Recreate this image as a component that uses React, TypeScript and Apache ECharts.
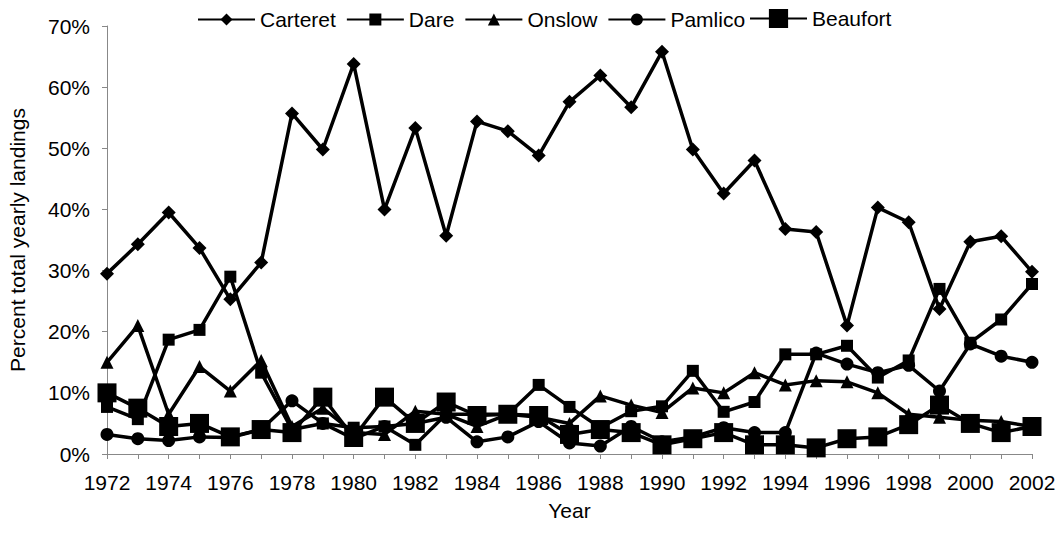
import React, { useEffect, useRef } from "react";
import * as echarts from "echarts";

const years = [
  "1972","1973","1974","1975","1976","1977","1978","1979","1980","1981",
  "1982","1983","1984","1985","1986","1987","1988","1989","1990","1991",
  "1992","1993","1994","1995","1996","1997","1998","1999","2000","2001","2002",
];

const carteret = [29.5,34.3,39.5,33.7,25.3,31.3,55.7,49.8,63.8,40.0,53.3,35.7,54.4,52.8,48.8,57.6,61.9,56.7,65.8,49.8,42.6,48.0,36.8,36.3,21.0,40.3,37.9,23.7,34.7,35.6,29.8];
const dare = [7.7,5.7,18.7,20.3,29.0,13.3,4.0,5.0,4.3,4.5,1.5,6.5,6.5,6.5,11.3,7.7,4.3,7.0,7.8,13.6,6.9,8.5,16.3,16.3,17.7,12.5,15.3,27.0,18.2,22.0,27.8];
const onslow = [15.0,21.0,6.5,14.3,10.3,15.3,4.5,7.5,3.5,3.2,7.0,6.5,4.5,6.5,6.0,5.0,9.5,8.0,6.8,10.8,10.0,13.3,11.3,12.0,11.8,10.0,6.5,6.0,5.5,5.3,4.5];
const pamlico = [3.2,2.5,2.2,2.8,2.7,4.0,8.7,5.0,2.5,4.5,5.0,6.0,2.0,2.8,5.3,1.8,1.3,4.5,2.0,2.8,4.3,3.5,3.5,16.5,14.7,13.3,14.5,10.3,18.0,16.0,15.0];
const beaufort = [10.0,7.5,4.5,5.0,2.8,4.0,3.5,9.3,2.7,9.3,5.0,8.5,6.3,6.5,6.3,3.2,4.0,3.5,1.5,2.5,3.5,1.5,1.5,1.0,2.5,2.8,4.8,8.0,5.0,3.5,4.5];

const yTicks = [0, 10, 20, 30, 40, 50, 60, 70];

const FONT = "'Liberation Sans', Arial, sans-serif";
const FS = 21;

export default function App() {
  const ref = useRef<HTMLDivElement>(null);
  useEffect(() => {
    if (!ref.current) return;
    const chart = echarts.init(ref.current, undefined, { renderer: "svg" });
    const mk = (name: string, data: number[], symbol: string, size: number) => ({
      name,
      type: "line",
      data,
      symbol,
      symbolSize: size,
      showAllSymbol: true,
      lineStyle: { color: "#000", width: 3.5 },
      itemStyle: { color: "#000" },
    });
    const legendText = { fontFamily: FONT, fontSize: FS, color: "#000" };
    chart.setOption({
      animation: false,
      backgroundColor: "#fff",
      textStyle: { fontFamily: FONT },
      legend: [
        {
          top: 9,
          left: 197,
          padding: 0,
          itemWidth: 57,
          itemHeight: 15,
          itemGap: 10,
          textStyle: legendText,
          data: ["Carteret", "Dare", "Onslow", "Pamlico"],
        },
        {
          top: 8,
          left: 749,
          padding: 0,
          itemWidth: 57,
          itemHeight: 24,
          textStyle: legendText,
          data: ["Beaufort"],
        },
      ],
      grid: {
        left: 107,
        right: 28,
        top: 26,
        bottom: 85,
        containLabel: false,
        outerBoundsMode: "none",
      },
      xAxis: {
        type: "category",
        data: years,
        boundaryGap: false,
        name: "Year",
        nameLocation: "middle",
        nameGap: 46,
        nameTextStyle: { fontFamily: FONT, fontSize: FS, color: "#000" },
        axisLine: { lineStyle: { color: "#888", width: 1 } },
        axisTick: { show: true, interval: 0, length: 5, lineStyle: { color: "#888" } },
        axisLabel: { interval: 1, fontFamily: FONT, fontSize: FS, color: "#000", margin: 18 },
        splitLine: { show: false },
      },
      yAxis: {
        type: "value",
        min: 0,
        max: 70,
        interval: 10,
        name: "Percent total yearly landings",
        nameLocation: "middle",
        nameGap: 79,
        nameRotate: 90,
        nameTextStyle: { fontFamily: FONT, fontSize: FS, color: "#000" },
        axisLine: { show: true, lineStyle: { color: "#888", width: 1 } },
        axisTick: { show: true, length: 5, lineStyle: { color: "#888" } },
        axisLabel: {
          fontFamily: FONT,
          fontSize: FS,
          color: "#000",
          margin: 17,
          formatter: (v: number) => (yTicks.includes(v) ? v + "%" : ""),
        },
        splitLine: { show: false },
      },
      series: [
        mk("Carteret", carteret, "diamond", 14),
        mk("Dare", dare, "rect", 12),
        mk("Onslow", onslow, "triangle", 13),
        mk("Pamlico", pamlico, "circle", 13),
        mk("Beaufort", beaufort, "rect", 19),
      ],
    });
    return () => chart.dispose();
  }, []);
  return (
    <div
      ref={ref}
      style={{ position: "fixed", left: 0, top: 0, width: 1060, height: 539 }}
    />
  );
}
